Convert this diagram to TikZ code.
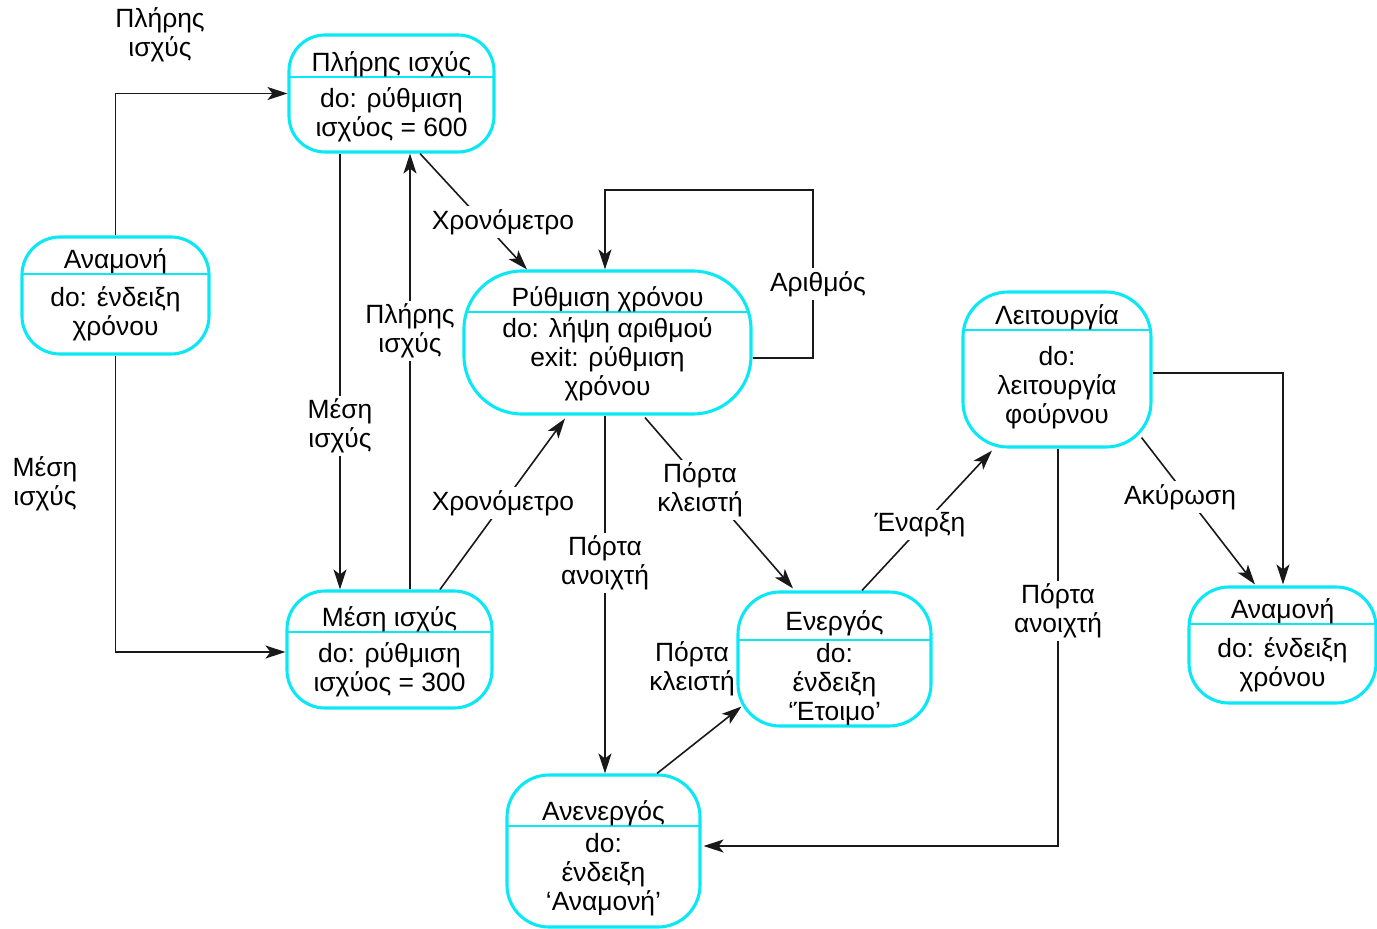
\documentclass[tikz,border=0pt]{standalone}
\usepackage{fontspec}
\setmainfont{Liberation Sans}
\usetikzlibrary{arrows.meta,calc,fit}
\definecolor{stcyan}{RGB}{10,232,245}
\tikzset{
  stshape/.style={draw=stcyan, line width=3.1pt, inner sep=0pt},
  divline/.style={draw=stcyan, line width=1.5pt},
  txt/.style={font=\fontsize{26.4}{29}\selectfont, align=center, inner sep=0pt},
  conn/.style={line width=1.6pt, draw=black!90},
  arr/.style={conn, -{Stealth[length=20pt,width=13pt,inset=5pt]}},
  lbl/.style={txt, fill=white, inner sep=3pt},
}
% \stbox[r]{name}{x1,y1}{x2,y2}{ydiv}{title}{body last baseline}{body}
\newcommand\stbox[8][38]{%
  \node[stshape, rounded corners=#1pt, fit={(#3) (#4)}] (#2) {};
  \begin{scope}
    \clip[rounded corners=#1pt] (#3) rectangle (#4);
    \draw[divline] (#3 |- 0,#5) -- (#4 |- 0,#5);
  \end{scope}
  \node[txt, anchor=base] (#2-t) at ($(#2.center |- 0,#5)+(0,-6)$) {#6};
  \node[txt, anchor=base] (#2-b) at (#2.center |- 0,#7) {#8};
}
\begin{document}
\begin{tikzpicture}[x=1pt,y=-1pt]
\useasboundingbox[fill=white] (0,0) rectangle (1377,929);

% states
\stbox[36]{full}{289,35}{494,152}{77}{Πλήρης ισχύς}{136}{do: ρύθμιση\\ισχύος = 600}
\stbox[38]{waitL}{22,237}{209,354}{274}{Αναμονή}{335}{do: ένδειξη\\χρόνου}
\stbox[58]{rt}{464,271}{751,414}{312}{Ρύθμιση χρόνου}{395}{do: λήψη αριθμού\\exit: ρύθμιση\\χρόνου}
\stbox[38]{med}{287,591}{492,708}{632}{Μέση ισχύς}{691}{do: ρύθμιση\\ισχύος = 300}
\stbox[42]{act}{738,592}{931,726}{640}{\raisebox{4pt}{Ενεργός}}{720}{do:\\ένδειξη\\‘Έτοιμο’}
\stbox[42]{inact}{507,775}{700,927}{826}{Ανενεργός}{910}{do:\\ένδειξη\\‘Αναμονή’}
\stbox[45]{oper}{963,292}{1151,447}{330}{Λειτουργία}{423}{do:\\λειτουργία\\φούρνου}
\stbox[40]{waitR}{1189,587}{1376,703}{624}{Αναμονή}{686}{do: ένδειξη\\χρόνου}

% connectors
\coordinate (loopc) at (813,190);
\draw[arr] (waitL.north) |- (full.west);
\draw[arr] (waitL.south) |- ($(med.west)+(0,2.5)$);
\draw[arr] ($(full.south)+(-51.5,0)$) -- ($(med.north)+(-49.5,0)$);
\draw[arr] ($(med.north)+(20.5,0)$) -- ($(full.south)+(18.5,0)$);
\draw[arr] ($(full.south)+(28.5,0)$) -- ($(rt.north)+(-80.5,0)$);
\draw[arr] ($(med.north)+(50.5,0)$) -- ($(rt.south)+(-42.5,3)$);
\draw[arr] ($(rt.east)+(0,15.5)$) -| (loopc) -| ($(rt.north)+(-2.5,0)$);
\draw[arr] ($(rt.south)+(-2.5,0)$) -- ($(inact.north)+(1.5,0)$);
\draw[arr] ($(rt.south)+(37.5,2)$) -- ($(act.north)+(-41.5,-2)$);
\draw[arr] ($(inact.north)+(53.5,0)$) -- ($(act.south west)+(5,-21)$);
\draw[arr] ($(act.north)+(27.5,0)$) -- ($(oper.south)+(-65,2)$);
\draw[arr] ($(oper.south)+(1,0)$) |- ($(inact.east)+(2,-5)$);
\draw[arr] ($(oper.south east)+(-11,-11)$) -- ($(waitR.north)+(-27.5,-1)$);
\draw[arr] ($(oper.east)+(0,3.5)$) -| ($(waitR.north)+(0.5,-1)$);

% labels
\node[txt] (l1) at (160,35) {Πλήρης\\ισχύς};
\node[txt] (l2) at (45,484) {Μέση\\ισχύς};
\node[lbl] (l3) at (340,426) {Μέση\\ισχύς};
\node[lbl] (l4) at (410,331) {Πλήρης\\ισχύς};
\node[lbl] (l5) at (503,222) {Χρονόμετρο};
\node[lbl] (l6) at (503,503) {Χρονόμετρο};
\node[lbl] (l7) at (818,284) {Αριθμός};
\node[lbl] (l8) at (605,563) {Πόρτα\\ανοιχτή};
\node[lbl] (l9) at (700,490) {Πόρτα\\κλειστή};
\node[txt] (l10) at (692,669) {Πόρτα\\κλειστή};
\node[lbl] (l11) at (920,525) {Έναρξη};
\node[lbl] (l12) at (1058,611) {Πόρτα\\ανοιχτή};
\node[lbl] (l13) at (1180,497) {Ακύρωση};
\end{tikzpicture}
\end{document}
